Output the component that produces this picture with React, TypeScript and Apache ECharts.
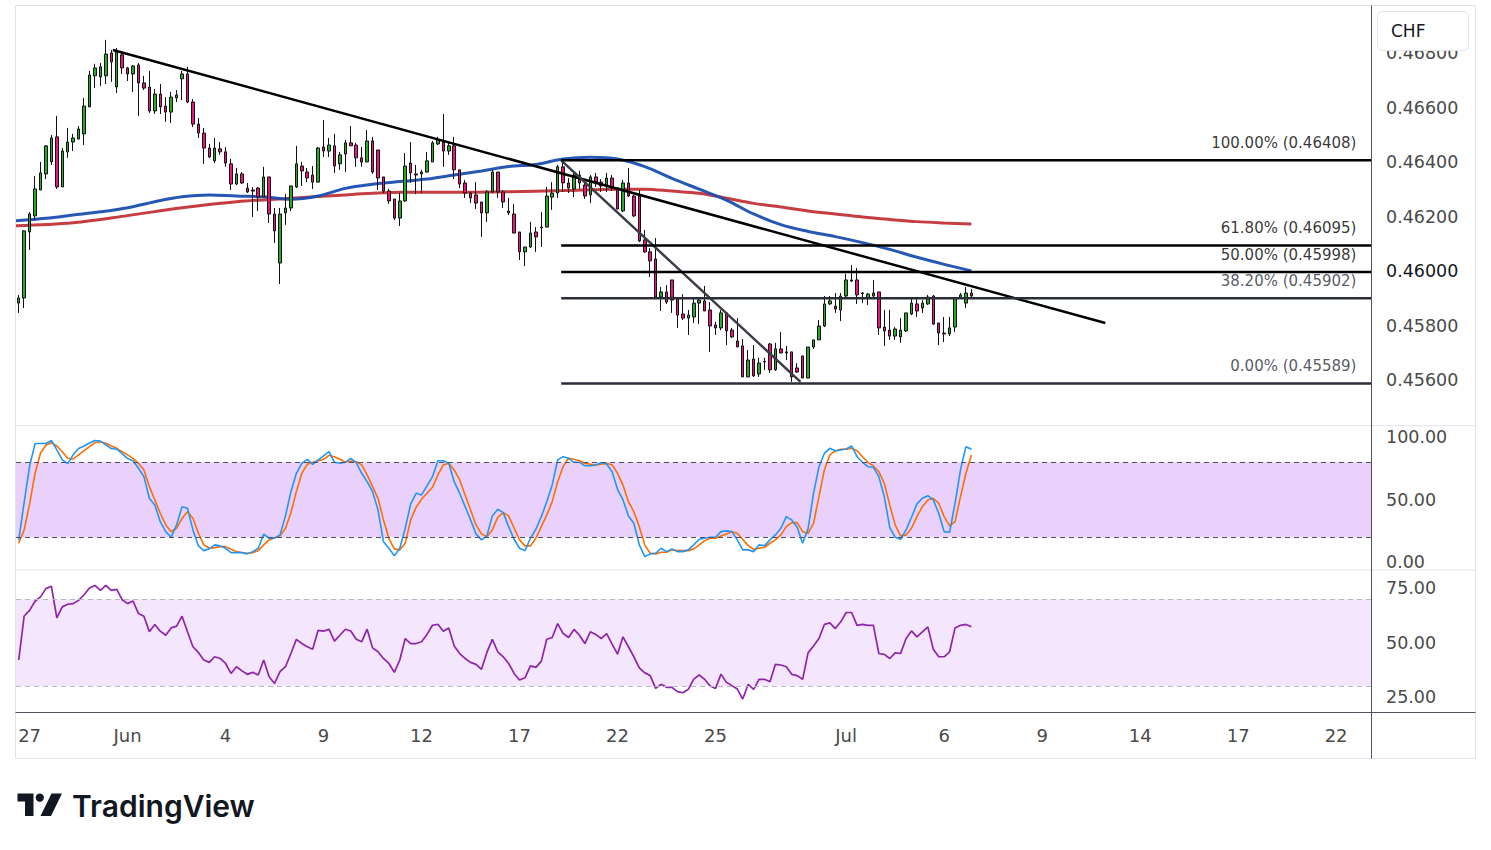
import React, { useEffect, useRef } from "react";
import * as echarts from "echarts";

// ---------- data (4h candles, index 0 = last bar of May 26) ----------
const openPrices = [
  0.45884, 0.45903, 0.46145, 0.46204, 0.46299, 0.46358, 0.46402, 0.46494, 0.46310, 0.46439,
  0.46475, 0.46486, 0.46505, 0.46604, 0.46718, 0.46714, 0.46718, 0.46802, 0.46677, 0.46795,
  0.46747, 0.46725, 0.46758, 0.46692, 0.46677, 0.46589, 0.46651, 0.46607, 0.46585, 0.46637,
  0.46707, 0.46725, 0.46622, 0.46541, 0.46508, 0.46453, 0.46406, 0.46450, 0.46439, 0.46395,
  0.46321, 0.46358, 0.46306, 0.46299, 0.46306, 0.46273, 0.46347, 0.46211, 0.46031, 0.46215,
  0.46233, 0.46310, 0.46387, 0.46365, 0.46354, 0.46328, 0.46457, 0.46442, 0.46461, 0.46395,
  0.46431, 0.46472, 0.46464, 0.46417, 0.46402, 0.46479, 0.46446, 0.46347, 0.46295, 0.46266,
  0.46196, 0.46259, 0.46398, 0.46358, 0.46358, 0.46365, 0.46402, 0.46468, 0.46475, 0.46442,
  0.46461, 0.46373, 0.46325, 0.46288, 0.46281, 0.46255, 0.46215, 0.46292, 0.46365, 0.46292,
  0.46222, 0.46211, 0.46145, 0.46072, 0.46090, 0.46145, 0.46163, 0.46163, 0.46273, 0.46288,
  0.46384, 0.46325, 0.46303, 0.46354, 0.46317, 0.46281, 0.46347, 0.46328, 0.46314, 0.46343,
  0.46306, 0.46222, 0.46325, 0.46277, 0.46277, 0.46116, 0.46072, 0.46046, 0.45906, 0.45925,
  0.45969, 0.45899, 0.45844, 0.45829, 0.45833, 0.45884, 0.45892, 0.45859, 0.45804, 0.45793,
  0.45848, 0.45785, 0.45745, 0.45727, 0.45613, 0.45679, 0.45624, 0.45668, 0.45734, 0.45639,
  0.45716, 0.45705, 0.45705, 0.45646, 0.45690, 0.45609, 0.45723, 0.45749, 0.45800, 0.45881,
  0.45873, 0.45859, 0.45910, 0.45969, 0.45969, 0.45921, 0.45903, 0.45910, 0.45925, 0.45796,
  0.45785, 0.45763, 0.45760, 0.45782, 0.45844, 0.45881, 0.45866, 0.45881, 0.45910, 0.45811,
  0.45774, 0.45771, 0.45796, 0.45903, 0.45884, 0.45921,
];
const closePrices = [
  0.45903, 0.46149, 0.46211, 0.46303, 0.46362, 0.46461, 0.46490, 0.46310, 0.46442, 0.46475,
  0.46490, 0.46523, 0.46607, 0.46721, 0.46747, 0.46751, 0.46798, 0.46769, 0.46806, 0.46747,
  0.46725, 0.46754, 0.46692, 0.46673, 0.46589, 0.46651, 0.46604, 0.46585, 0.46640, 0.46648,
  0.46725, 0.46622, 0.46541, 0.46508, 0.46453, 0.46420, 0.46453, 0.46439, 0.46398, 0.46321,
  0.46358, 0.46325, 0.46292, 0.46295, 0.46273, 0.46347, 0.46211, 0.46149, 0.46211, 0.46233,
  0.46314, 0.46395, 0.46369, 0.46343, 0.46328, 0.46453, 0.46442, 0.46464, 0.46387, 0.46428,
  0.46472, 0.46461, 0.46417, 0.46402, 0.46479, 0.46365, 0.46343, 0.46295, 0.46259, 0.46196,
  0.46259, 0.46387, 0.46362, 0.46354, 0.46365, 0.46406, 0.46472, 0.46483, 0.46442, 0.46461,
  0.46373, 0.46321, 0.46288, 0.46270, 0.46251, 0.46215, 0.46292, 0.46365, 0.46292, 0.46255,
  0.46215, 0.46141, 0.46072, 0.46090, 0.46141, 0.46127, 0.46160, 0.46277, 0.46288, 0.46384,
  0.46325, 0.46306, 0.46354, 0.46325, 0.46277, 0.46347, 0.46328, 0.46314, 0.46343, 0.46310,
  0.46229, 0.46325, 0.46277, 0.46204, 0.46112, 0.46072, 0.46039, 0.45906, 0.45925, 0.45888,
  0.45895, 0.45840, 0.45829, 0.45840, 0.45884, 0.45895, 0.45855, 0.45800, 0.45793, 0.45848,
  0.45782, 0.45760, 0.45723, 0.45613, 0.45675, 0.45617, 0.45664, 0.45670, 0.45639, 0.45716,
  0.45701, 0.45701, 0.45613, 0.45631, 0.45609, 0.45723, 0.45749, 0.45800, 0.45881, 0.45892,
  0.45862, 0.45910, 0.45969, 0.45965, 0.45914, 0.45919, 0.45917, 0.45921, 0.45793, 0.45782,
  0.45763, 0.45789, 0.45785, 0.45848, 0.45884, 0.45855, 0.45884, 0.45906, 0.45807, 0.45774,
  0.45771, 0.45793, 0.45903, 0.45914, 0.45921, 0.45910,
];
const lowPrices = [
  0.45848, 0.45866, 0.46079, 0.46189, 0.46299, 0.46339, 0.46391, 0.46303, 0.46310, 0.46417,
  0.46442, 0.46486, 0.46464, 0.46604, 0.46673, 0.46681, 0.46688, 0.46696, 0.46655, 0.46725,
  0.46699, 0.46659, 0.46571, 0.46666, 0.46582, 0.46578, 0.46578, 0.46549, 0.46545, 0.46622,
  0.46629, 0.46618, 0.46530, 0.46490, 0.46395, 0.46417, 0.46398, 0.46428, 0.46384, 0.46299,
  0.46317, 0.46321, 0.46288, 0.46200, 0.46222, 0.46273, 0.46178, 0.46105, 0.45954, 0.46171,
  0.46222, 0.46306, 0.46314, 0.46328, 0.46303, 0.46328, 0.46420, 0.46420, 0.46362, 0.46373,
  0.46365, 0.46461, 0.46384, 0.46384, 0.46402, 0.46358, 0.46299, 0.46288, 0.46248, 0.46189,
  0.46167, 0.46255, 0.46325, 0.46284, 0.46288, 0.46362, 0.46402, 0.46464, 0.46384, 0.46428,
  0.46339, 0.46306, 0.46270, 0.46251, 0.46229, 0.46127, 0.46182, 0.46288, 0.46270, 0.46233,
  0.46207, 0.46141, 0.46042, 0.46020, 0.46086, 0.46072, 0.46090, 0.46163, 0.46226, 0.46270,
  0.46292, 0.46288, 0.46273, 0.46303, 0.46266, 0.46251, 0.46310, 0.46292, 0.46292, 0.46295,
  0.46229, 0.46218, 0.46273, 0.46200, 0.46108, 0.46068, 0.45980, 0.45906, 0.45855, 0.45881,
  0.45848, 0.45793, 0.45822, 0.45767, 0.45811, 0.45807, 0.45855, 0.45705, 0.45767, 0.45785,
  0.45730, 0.45756, 0.45723, 0.45613, 0.45613, 0.45613, 0.45613, 0.45639, 0.45628, 0.45635,
  0.45701, 0.45675, 0.45595, 0.45628, 0.45609, 0.45609, 0.45716, 0.45749, 0.45796, 0.45877,
  0.45848, 0.45818, 0.45903, 0.45961, 0.45881, 0.45884, 0.45877, 0.45903, 0.45767, 0.45727,
  0.45749, 0.45749, 0.45738, 0.45778, 0.45840, 0.45833, 0.45848, 0.45877, 0.45804, 0.45730,
  0.45741, 0.45763, 0.45778, 0.45899, 0.45866, 0.45906,
];
const highPrices = [
  0.45914, 0.46152, 0.46218, 0.46350, 0.46402, 0.46464, 0.46501, 0.46571, 0.46453, 0.46527,
  0.46505, 0.46534, 0.46637, 0.46736, 0.46762, 0.46765, 0.46850, 0.46813, 0.46820, 0.46802,
  0.46751, 0.46758, 0.46765, 0.46718, 0.46736, 0.46670, 0.46688, 0.46640, 0.46659, 0.46666,
  0.46736, 0.46751, 0.46633, 0.46563, 0.46527, 0.46468, 0.46490, 0.46475, 0.46457, 0.46413,
  0.46380, 0.46365, 0.46325, 0.46310, 0.46310, 0.46384, 0.46347, 0.46233, 0.46233, 0.46284,
  0.46314, 0.46461, 0.46402, 0.46380, 0.46387, 0.46457, 0.46556, 0.46490, 0.46505, 0.46439,
  0.46483, 0.46534, 0.46472, 0.46457, 0.46519, 0.46494, 0.46446, 0.46347, 0.46303, 0.46266,
  0.46288, 0.46435, 0.46475, 0.46391, 0.46373, 0.46439, 0.46479, 0.46494, 0.46578, 0.46472,
  0.46494, 0.46373, 0.46336, 0.46292, 0.46328, 0.46255, 0.46299, 0.46373, 0.46365, 0.46299,
  0.46270, 0.46248, 0.46145, 0.46090, 0.46182, 0.46163, 0.46218, 0.46310, 0.46328, 0.46391,
  0.46402, 0.46343, 0.46362, 0.46369, 0.46328, 0.46354, 0.46362, 0.46339, 0.46362, 0.46354,
  0.46310, 0.46336, 0.46380, 0.46281, 0.46299, 0.46152, 0.46086, 0.46123, 0.45943, 0.45950,
  0.45969, 0.45899, 0.45917, 0.45859, 0.45903, 0.45899, 0.45947, 0.45888, 0.45815, 0.45859,
  0.45848, 0.45793, 0.45829, 0.45752, 0.45712, 0.45730, 0.45683, 0.45683, 0.45738, 0.45738,
  0.45778, 0.45727, 0.45705, 0.45664, 0.45690, 0.45723, 0.45749, 0.45822, 0.45910, 0.45910,
  0.45921, 0.45921, 0.45991, 0.46024, 0.46013, 0.45925, 0.45921, 0.45969, 0.45925, 0.45859,
  0.45859, 0.45796, 0.45829, 0.45848, 0.45903, 0.45903, 0.45895, 0.45914, 0.45914, 0.45811,
  0.45833, 0.45833, 0.45903, 0.45921, 0.45943, 0.45936,
];

const stochK = [
  18, 48, 77, 95, 95, 95, 97.5, 90, 82, 79, 86, 91, 93, 95.5, 97.5, 97, 94, 91, 90.5, 87,
  83, 81.3, 75.2, 68.5, 51.2, 45.9, 32.5, 24.5, 20, 29.9, 44.5, 43.2, 25.9, 13.1, 9.3, 10.7, 13.9, 13.1, 11.2, 7.7,
  7.7, 7.7, 6.7, 8.5, 11.2, 22.4, 19.2, 19.2, 21.9, 37.1, 56.5, 71.2, 79.2, 82.4, 78.4, 81.9, 85.1, 88.5, 80, 79.2,
  80, 83.2, 79.7, 71.2, 64.5, 56.5, 41.9, 16.5, 11.2, 5.1, 11.2, 27.2, 46.7, 55.2, 53.9, 61.1, 68.5, 81.3, 81.3, 79.2,
  64.5, 55.2, 44.5, 33.9, 22.7, 17.9, 21.1, 37.1, 42.4, 39.7, 28.5, 18.4, 11.2, 9.3, 19.2, 26.4, 36.5, 48.5, 61.9, 81.9,
  84.5, 83.2, 80, 80, 77.3, 77.3, 77.9, 79.7, 78.7, 72.5, 58.4, 49.9, 37.1, 31.2, 13.9, 4.5, 6.7, 7.2, 11.2, 8.5,
  10.7, 8.5, 8.5, 9.9, 13.9, 18.4, 19.2, 20, 20, 24.5, 25.1, 24.5, 17.9, 9.9, 9.9, 8.5, 13.9, 13.3, 17.9, 21.9,
  27.2, 36.5, 33.9, 28, 15.2, 26.7, 55.2, 76.5, 87.2, 91.2, 89.3, 89.9, 90.7, 93.1, 84.5, 80, 76.5, 76, 68.5, 52.5,
  28, 20, 18.4, 25.9, 36, 46.7, 51.2, 53.3, 49.9, 39.2, 24.5, 24, 47.2, 73.9, 92.5, 90.4,
];
const stochD = [
  15.2, 25.9, 46.7, 71.2, 87.2, 93.9, 95.7, 93.1, 88.5, 83.2, 82.7, 85.9, 89.3, 92.5, 95.7, 96.5, 95.2, 93.1, 91.2, 88.5,
  85.9, 83.2, 79.2, 73.9, 60.5, 49.9, 39.2, 29.9, 24.5, 27.2, 35.2, 40.5, 35.2, 23.2, 13.9, 11.2, 11.7, 12.5, 12.5, 10.4,
  8.5, 7.7, 7.2, 7.7, 9.3, 13.9, 17.9, 19.7, 21.1, 27.2, 39.7, 56.5, 71.2, 78.4, 80, 81.3, 82.4, 85.6, 84.5, 82.4,
  80, 81.1, 80.5, 77.9, 69.9, 60.5, 51.2, 33.9, 19.2, 10.7, 9.9, 15.2, 33.9, 44, 50.4, 55.2, 60, 69.9, 77.9, 79.2,
  73.9, 65.9, 53.9, 41.9, 29.9, 22.7, 20.5, 25.9, 36, 39.7, 37.1, 27.2, 17.9, 13.1, 13.1, 19.2, 28.5, 37.9, 48.5, 64.5,
  76.5, 83.2, 82.4, 81.3, 79.2, 78.4, 77.9, 78.4, 79.2, 77.9, 71.2, 61.9, 48.5, 40.5, 28.5, 13.9, 7.2, 6.7, 8, 8,
  9.9, 9.3, 9.3, 9.3, 10.7, 13.9, 17.1, 19.2, 19.2, 21.1, 22.7, 24.5, 23.2, 18.4, 13.3, 10.4, 11.2, 12, 15.2, 17.9,
  21.9, 28.5, 31.7, 31.7, 24.5, 23.2, 31.2, 52.5, 73.9, 85.9, 89.1, 90.4, 90.4, 91.2, 89.3, 84.5, 80, 77.1, 72.5, 63.2,
  45.9, 29.9, 21.1, 21.9, 27.2, 36.5, 44.5, 49.9, 51.2, 47.2, 36.5, 29.1, 32.5, 52.5, 71.2, 85.9,
];
const rsiValues = [
  42, 62.3, 64.9, 69.1, 71.1, 74.9, 76, 61.4, 66.5, 67.7, 68, 69.5, 72.1, 75.2, 76.4, 74.1, 76.4, 74.1, 74.6, 69.8,
  68, 69.2, 63.4, 62.2, 55, 58.4, 55.3, 53.4, 56.8, 57.6, 62.2, 55, 48.1, 45.5, 42, 40.9, 43.5, 42.7, 40.4, 35.8,
  38.9, 37, 35.4, 36.3, 35.1, 42, 34.3, 31.2, 36.6, 38.9, 45, 51.5, 49.6, 48.1, 47, 55.7, 55.3, 56.2, 50.7, 53.4,
  56.2, 55.4, 51.6, 50.4, 56.2, 47.6, 45.8, 42.7, 40.4, 36.3, 42, 51.9, 49.6, 49.6, 50.4, 53.8, 58, 58.5, 55.3, 56.8,
  48.5, 45, 42.7, 40.9, 40, 37.7, 45.5, 51.5, 45.8, 43.5, 40.4, 35.8, 32.8, 33.8, 39.3, 38.6, 41.5, 51.6, 52.4, 58.8,
  54.2, 52.4, 56.1, 53.4, 49.6, 55, 53.8, 51.9, 54.2, 49.3, 44.7, 52.7, 48.1, 43.5, 38.4, 36.1, 34.8, 28.9, 30.8, 29.4,
  29.4, 27.4, 26.9, 28.5, 33.2, 35.1, 33.1, 30, 28.9, 35.5, 31.7, 30.2, 28.6, 24, 30.8, 28.5, 33.1, 33.1, 32, 40,
  39.7, 38.9, 35.4, 34.8, 33.1, 45.3, 48.5, 51.9, 58.4, 59.1, 56.5, 59.6, 63.9, 63.9, 58, 58.4, 58, 58, 45, 44.6,
  42.7, 45.3, 45, 51.9, 55.4, 52.7, 55, 57.3, 47, 43.5, 43.5, 45.8, 56.8, 58, 58.4, 57.3,
];

// moving averages read at sampled bar indices: [barIndex, price]
const maBlue = [
  [-0.5, 0.46186], [5, 0.46195], [10, 0.46207], [15, 0.46219], [20, 0.46234], [25, 0.46256],
  [30, 0.46274], [35, 0.46281], [40, 0.46277], [45, 0.46274], [50, 0.46265], [55, 0.46277],
  [60, 0.46305], [65, 0.46320], [70, 0.46330], [75, 0.46339], [80, 0.46354], [85, 0.46369],
  [90, 0.46385], [95, 0.46393], [100, 0.46413], [105, 0.46419], [110, 0.46413], [115, 0.46385],
  [120, 0.46342], [125, 0.46302], [130, 0.46262], [135, 0.46211], [140, 0.46172], [145, 0.46147],
  [150, 0.46128], [155, 0.46106], [160, 0.46081], [165, 0.46052], [170, 0.46026], [175, 0.46002],
];
const maRed = [
  [-0.5, 0.46168], [10, 0.46179], [20, 0.46205], [30, 0.46234], [40, 0.46256], [50, 0.46269],
  [60, 0.46281], [70, 0.46291], [80, 0.46291], [90, 0.46293], [100, 0.46297], [110, 0.46302],
  [115, 0.46302], [120, 0.46295], [125, 0.46287], [130, 0.46269], [135, 0.46250], [140, 0.46237],
  [145, 0.46222], [150, 0.46211], [155, 0.46200], [160, 0.46191], [165, 0.46183], [170, 0.46178],
  [175, 0.46174],
];

// drawings: [barIndex, price]
const trendLineA = [[17.3, 0.46813], [199.6, 0.45811]];
const trendLineB = [[99.65, 0.46408], [143.6, 0.45595]];
const fibStartIndex = 99.65;
const fibPercents = ["100.00%", "61.80%", "50.00%", "38.20%", "0.00%"];
const fibLevels = [0.46408, 0.46095, 0.45998, 0.45902, 0.45589];

// axes
const totalSlots = 249;
const priceTicks = [0.456, 0.458, 0.46, 0.462, 0.464, 0.466, 0.468];
const stochTicks = [0, 50, 100];
const rsiTicks = [25, 50, 75];
const stochBands = [20, 80];
const rsiBands = [30, 70];
const dateTickIndex = [2, 20, 38, 56, 74, 92, 110, 128, 152, 170, 188, 206, 224, 242];
const dateTickLabel = ["27", "Jun", "4", "9", "12", "17", "22", "25", "Jul", "6", "9", "14", "17", "22"];

const FONT = "'DejaVu Sans', 'Noto Sans', sans-serif";
const AXIS_TEXT = "#4a4a4a";
const fibColors = ["#000000", "#000000", "#000000", "#2a2e39", "#2a2e39"];

function buildOption() {
  const xEnd = totalSlots - 0.5;
  const slots = Array.from({ length: totalSlots }, (_, i) => String(i));
  const candles = openPrices.map((o, i) => [o, closePrices[i], lowPrices[i], highPrices[i]]);
  const gridLeft = 16;
  const gridWidth = 1355.5;

  const series: any[] = [
    {
      name: "MA red", type: "line", xAxisIndex: 1, yAxisIndex: 0, data: maRed, smooth: 0.35,
      symbol: "none", z: 2, lineStyle: { color: "#c0282c", width: 3, opacity: 0.9 },
    },
    {
      name: "MA blue", type: "line", xAxisIndex: 1, yAxisIndex: 0, data: maBlue, smooth: 0.35,
      symbol: "none", z: 2, lineStyle: { color: "#1b4eb0", width: 3, opacity: 0.95 },
    },
    {
      name: "Price", type: "candlestick", xAxisIndex: 0, yAxisIndex: 0, data: candles, barWidth: 3, z: 3,
      itemStyle: {
        color: "#24ad24", color0: "#f0137f", borderColor: "#111111", borderColor0: "#111111",
        borderColorDoji: "#111111", borderWidth: 1,
      },
    },
    {
      name: "Trend A", type: "line", xAxisIndex: 1, yAxisIndex: 0, data: trendLineA, symbol: "none", z: 5,
      lineStyle: { color: "#000000", width: 2.5 },
    },
    {
      name: "Trend B", type: "line", xAxisIndex: 1, yAxisIndex: 0, data: trendLineB, symbol: "none", z: 5,
      lineStyle: { color: "#3b3e48", width: 2.5 },
    },
  ];

  fibLevels.forEach((lvl, k) => {
    series.push({
      name: "Fib " + fibPercents[k], type: "line", xAxisIndex: 1, yAxisIndex: 0,
      data: [[fibStartIndex, lvl], [xEnd, lvl]], symbol: "none", z: 5,
      lineStyle: { color: fibColors[k], width: 2.5 },
    });
  });

  series.push({
    name: "Fib labels", type: "scatter", xAxisIndex: 1, yAxisIndex: 0, z: 6, clip: false,
    symbolSize: 2, itemStyle: { color: "rgba(0,0,0,0)" },
    data: fibLevels.map((lvl, k) => ({
      value: [xEnd - 0.01, lvl],
      label: { formatter: `${fibPercents[k]} (${lvl.toFixed(5)})`, color: fibColors[k] },
    })),
    label: {
      show: true, position: "left", distance: 14, offset: [0, -17.5],
      fontSize: 15, fontFamily: FONT,
    },
  });

  // Stochastic pane
  series.push({
    name: "Stoch band", type: "line", xAxisIndex: 2, yAxisIndex: 1, z: 1, symbol: "none",
    data: [[-0.5, 50], [xEnd, 50]], lineStyle: { opacity: 0 },
    markArea: {
      silent: true, itemStyle: { color: "#ead1fb" },
      data: [[{ yAxis: stochBands[0] }, { yAxis: stochBands[1] }]],
    },
    markLine: {
      silent: true, symbol: ["none", "none"], label: { show: false },
      lineStyle: { color: "#4f525c", type: [5, 4], width: 1 },
      data: stochBands.map((b) => ({ yAxis: b })),
    },
  });
  series.push({
    name: "%D", type: "line", xAxisIndex: 2, yAxisIndex: 1, z: 3, symbol: "none",
    data: stochD.map((v, i) => [i, v]), lineStyle: { color: "#ff6d00", width: 1.6 },
  });
  series.push({
    name: "%K", type: "line", xAxisIndex: 2, yAxisIndex: 1, z: 3, symbol: "none",
    data: stochK.map((v, i) => [i, v]), lineStyle: { color: "#2196f3", width: 1.6 },
  });

  // RSI pane
  series.push({
    name: "RSI band", type: "line", xAxisIndex: 3, yAxisIndex: 2, z: 1, symbol: "none",
    data: [[-0.5, 50], [xEnd, 50]], lineStyle: { opacity: 0 },
    markArea: {
      silent: true, itemStyle: { color: "#f4e6fd" },
      data: [[{ yAxis: rsiBands[0] }, { yAxis: rsiBands[1] }]],
    },
    markLine: {
      silent: true, symbol: ["none", "none"], label: { show: false },
      lineStyle: { color: "#b8b8c0", type: [5, 4], width: 1 },
      data: rsiBands.map((b) => ({ yAxis: b })),
    },
  });
  series.push({
    name: "RSI", type: "line", xAxisIndex: 3, yAxisIndex: 2, z: 3, symbol: "none",
    data: rsiValues.map((v, i) => [i, v]), lineStyle: { color: "#8e24aa", width: 1.7 },
  });

  const hiddenAxis = { axisLine: { show: false }, axisTick: { show: false }, splitLine: { show: false } };
  const labelBase = { color: AXIS_TEXT, fontSize: 17.5, fontFamily: FONT, margin: 14.5 };

  return {
    animation: false,
    backgroundColor: "#ffffff",
    grid: [
      { left: gridLeft, top: 5.5, width: gridWidth, height: 420.2 },
      { left: gridLeft, top: 425.7, width: gridWidth, height: 144.3 },
      { left: gridLeft, top: 570, width: gridWidth, height: 142.5 },
    ],
    xAxis: [
      { type: "category", gridIndex: 0, data: slots, boundaryGap: true, show: false },
      { type: "value", gridIndex: 0, min: -0.5, max: xEnd, show: false },
      { type: "value", gridIndex: 1, min: -0.5, max: xEnd, show: false },
      {
        type: "value", gridIndex: 2, min: -0.5, max: xEnd, position: "bottom", ...hiddenAxis,
        axisLabel: {
          customValues: dateTickIndex,
          formatter: (v: number) => {
            const k = dateTickIndex.indexOf(Math.round(v));
            return k >= 0 ? dateTickLabel[k] : "";
          },
          color: AXIS_TEXT, fontSize: 18, fontFamily: FONT, margin: 14,
        },
      },
    ],
    yAxis: [
      {
        type: "value", gridIndex: 0, position: "right", min: 0.454341, max: 0.469761, ...hiddenAxis,
        axisLabel: {
          ...labelBase,
          customValues: priceTicks,
          formatter: (v: number) => {
            const s = v.toFixed(5);
            return Math.abs(v - 0.46) < 1e-9 ? `{hi|${s}}` : s;
          },
          rich: { hi: { color: "#131722", fontSize: 17.5, fontFamily: FONT } },
        },
      },
      {
        type: "value", gridIndex: 1, position: "right", min: -6.2, max: 109.3, ...hiddenAxis,
        axisLabel: { ...labelBase, customValues: stochTicks, formatter: (v: number) => v.toFixed(2) },
      },
      {
        type: "value", gridIndex: 2, position: "right", min: 17.8, max: 83.5, ...hiddenAxis,
        axisLabel: { ...labelBase, customValues: rsiTicks, formatter: (v: number) => v.toFixed(2) },
      },
    ],
    series,
    graphic: [
      {
        type: "rect", z: 50, silent: true,
        shape: { x: 15.5, y: 5.5, width: 1460, height: 753 },
        style: { fill: "none", stroke: "#e0e3eb", lineWidth: 1 },
      },
      {
        type: "line", z: 50, silent: true, shape: { x1: 15.5, y1: 425.7, x2: 1475.5, y2: 425.7 },
        style: { stroke: "#e0e3eb", lineWidth: 1 },
      },
      {
        type: "line", z: 50, silent: true, shape: { x1: 15.5, y1: 570, x2: 1475.5, y2: 570 },
        style: { stroke: "#e0e3eb", lineWidth: 1 },
      },
      {
        type: "line", z: 50, silent: true, shape: { x1: 15.5, y1: 712.5, x2: 1475.5, y2: 712.5 },
        style: { stroke: "#50535e", lineWidth: 1 },
      },
      {
        type: "line", z: 50, silent: true, shape: { x1: 1371.5, y1: 5.5, x2: 1371.5, y2: 758.5 },
        style: { stroke: "#50535e", lineWidth: 1 },
      },
      {
        type: "rect", z: 60, silent: true,
        shape: { x: 1377.5, y: 11.5, width: 91, height: 39, r: 5 },
        style: { fill: "#ffffff", stroke: "#e0e3eb", lineWidth: 1 },
      },
      {
        type: "text", z: 61, silent: true,
        style: { text: "CHF", x: 1391, y: 30.5, fontSize: 17, fontFamily: FONT, fill: "#131722", verticalAlign: "middle" },
      },
      // TradingView logo
      {
        type: "polygon", z: 61, silent: true,
        shape: { points: [[17.5, 793.5], [33.5, 793.5], [33.5, 816], [25, 816], [25, 801.5], [17.5, 801.5]] },
        style: { fill: "#131722" },
      },
      {
        type: "circle", z: 61, silent: true, shape: { cx: 39.8, cy: 797.6, r: 4.1 },
        style: { fill: "#131722" },
      },
      {
        type: "polygon", z: 61, silent: true,
        shape: { points: [[51.5, 793.5], [62, 793.5], [51, 816], [40.5, 816]] },
        style: { fill: "#131722" },
      },
      {
        type: "text", z: 61, silent: true,
        style: {
          text: "TradingView", x: 72, y: 806, fontSize: 30, fontWeight: 600,
          fontFamily: "Inter, 'Noto Sans', sans-serif", fill: "#131722", verticalAlign: "middle",
        },
      },
    ],
  };
}

export default function App() {
  const ref = useRef<HTMLDivElement>(null);
  useEffect(() => {
    if (!ref.current) return;
    const chart = echarts.init(ref.current, undefined, { renderer: "svg" });
    chart.setOption(buildOption() as any);
    return () => chart.dispose();
  }, []);
  return (
    <div
      ref={ref}
      style={{ position: "absolute", left: 0, top: 0, width: "1491px", height: "850px", background: "#ffffff" }}
    />
  );
}
